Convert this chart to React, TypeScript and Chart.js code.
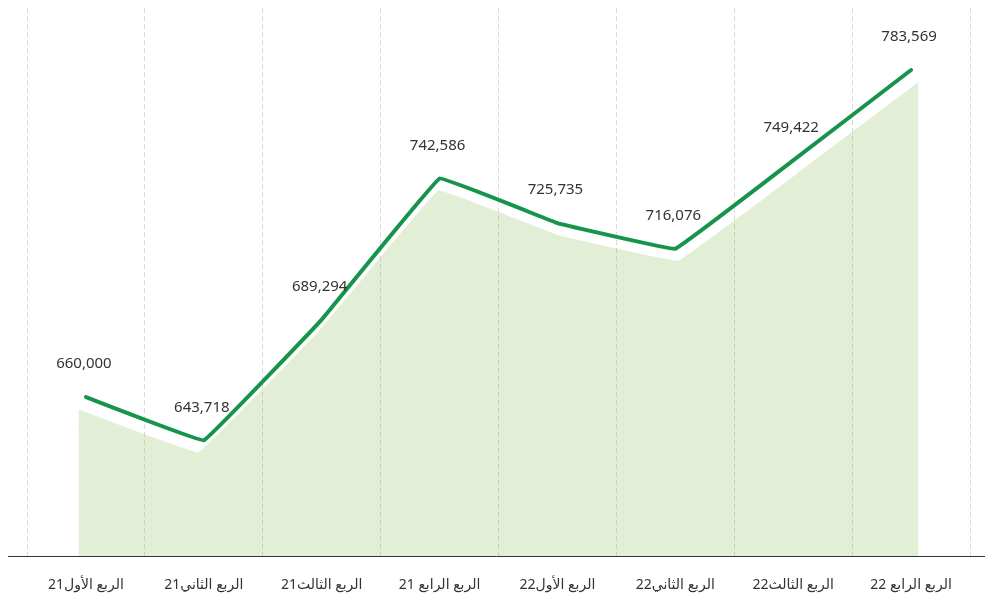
import React, { useEffect, useRef } from "react";
import { Chart, registerables } from "chart.js";

Chart.register(...registerables);

const categories = [
  "الربع الأول21",
  "الربع الثاني21",
  "الربع الثالث21",
  "الربع الرابع 21",
  "الربع الأول22",
  "الربع الثاني22",
  "الربع الثالث22",
  "الربع الرابع 22",
];

const values = [660000, 643718, 689294, 742586, 725735, 716076, 749422, 783569];

const yMin = 600000;
const yMax = 807000;
const shadowShift = 4535;

const FONT = "'Noto Sans', 'DejaVu Sans', sans-serif";

const valueLabels = {
  id: "valueLabels",
  afterDatasetsDraw(chart: any) {
    const meta = chart.getDatasetMeta(0);
    const ctx = chart.ctx;
    ctx.save();
    ctx.fillStyle = "#333333";
    ctx.font = `15px ${FONT}`;
    ctx.textAlign = "center";
    ctx.textBaseline = "middle";
    meta.data.forEach((pt: any, i: number) => {
      ctx.fillText(values[i].toLocaleString("en-US"), pt.x - 2, pt.y - 33);
    });
    ctx.restore();
  },
};

const baseline = {
  id: "baseline",
  afterDatasetsDraw(chart: any) {
    const ctx = chart.ctx;
    const y = Math.round(chart.chartArea.bottom) + 0.5;
    ctx.save();
    ctx.strokeStyle = "#333333";
    ctx.lineWidth = 1;
    ctx.beginPath();
    ctx.moveTo(8, y);
    ctx.lineTo(chart.width, y);
    ctx.stroke();
    ctx.restore();
  },
};

export default function App() {
  const ref = useRef<HTMLCanvasElement | null>(null);

  useEffect(() => {
    document.body.style.margin = "0";
    if (!ref.current) return;
    const chart = new Chart(ref.current, {
      type: "line",
      data: {
        labels: categories,
        datasets: [
          {
            data: values,
            borderColor: "#17944b",
            borderWidth: 4,
            pointRadius: 0,
            tension: 0.04,
            fill: false,
            borderCapStyle: "round",
            borderJoinStyle: "round",
            xAxisID: "x",
            yAxisID: "y",
          },
          {
            data: values.map((v, i) => ({ x: i, y: v })),
            backgroundColor: "rgba(141,190,90,0.25)",
            borderWidth: 0,
            pointRadius: 0,
            tension: 0.04,
            fill: "start",
            xAxisID: "x2",
            yAxisID: "y2",
          },
        ],
      } as any,
      options: {
        animation: false,
        responsive: true,
        maintainAspectRatio: false,
        events: [],
        layout: { padding: { top: 8, left: 27, right: 15, bottom: 0 } },
        plugins: {
          legend: { display: false },
          tooltip: { enabled: false },
        },
        scales: {
          x: {
            type: "category",
            offset: true,
            grid: {
              display: true,
              offset: true,
              color: "#dadada",
              lineWidth: 1,
              drawTicks: false,
            },
            border: { display: false, dash: [5, 3] },
            ticks: {
              color: "#333333",
              font: { size: 14, family: FONT },
              padding: 21,
              maxRotation: 0,
              autoSkip: false,
            },
            afterFit: (s: any) => {
              s.height = 40;
            },
          },
          x2: {
            type: "linear",
            display: false,
            min: -0.4286,
            max: 7.4297,
          },
          y: {
            display: false,
            min: yMin,
            max: yMax,
          },
          y2: {
            display: false,
            min: yMin + shadowShift,
            max: yMax + shadowShift,
          },
        },
      } as any,
      plugins: [valueLabels, baseline],
    });
    return () => chart.destroy();
  }, []);

  return (
    <div style={{ width: 985, height: 596, position: "relative" }}>
      <canvas ref={ref} />
    </div>
  );
}
